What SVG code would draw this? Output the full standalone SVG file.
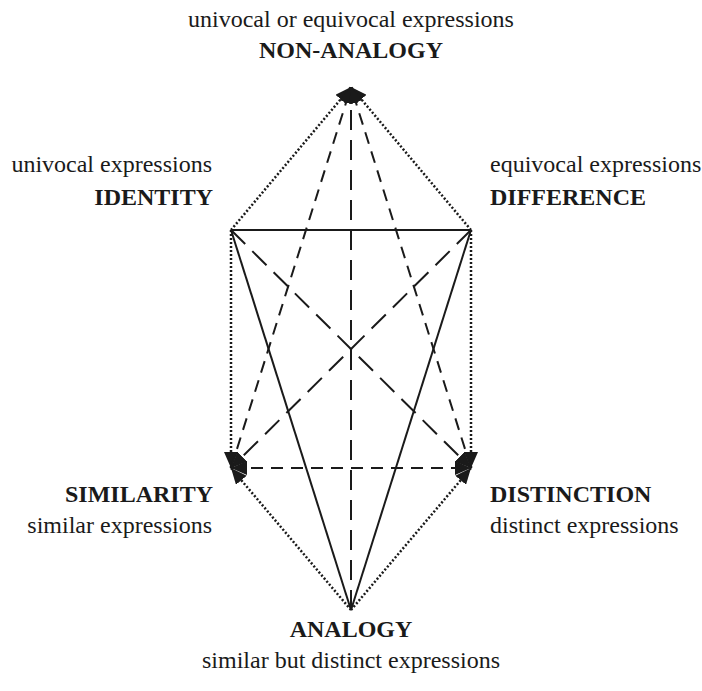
<svg xmlns="http://www.w3.org/2000/svg" width="702" height="691" viewBox="0 0 702 691">
<style>
.t{font-family:'Liberation Serif','Times New Roman',Tinos,'DejaVu Serif',serif;font-size:24px;fill:#1a1a1a}
.b{font-weight:bold}
.m{text-anchor:middle}
.e{text-anchor:end}
line{stroke:#1a1a1a;fill:none}
.solid{stroke-width:2}
.dot{stroke-width:2.5;stroke-dasharray:2 2}
.ld{stroke-width:2;stroke-dasharray:20 10}
.sd{stroke-width:2;stroke-dasharray:12 8}
</style>
<defs>
<marker id="ah" viewBox="0 0 16 14" refX="16" refY="7" markerWidth="16" markerHeight="14" markerUnits="userSpaceOnUse" orient="auto-start-reverse">
<path d="M0,0 L16,7 L0,14 Z" fill="#1a1a1a"/>
</marker>
</defs>
<g id="connectors">
<line class="solid" x1="231" y1="230" x2="471" y2="230"/>
<line class="solid" x1="231" y1="230" x2="351" y2="610"/>
<line class="solid" x1="471" y1="230" x2="351" y2="610"/>
<line class="dot" x1="231" y1="230" x2="351" y2="87" marker-end="url(#ah)"/>
<line class="dot" x1="471" y1="230" x2="351" y2="87" marker-end="url(#ah)"/>
<line class="dot" x1="231" y1="230" x2="231" y2="468" marker-end="url(#ah)"/>
<line class="dot" x1="471" y1="230" x2="471" y2="468" marker-end="url(#ah)"/>
<line class="dot" x1="351" y1="610" x2="231" y2="468" marker-end="url(#ah)"/>
<line class="dot" x1="351" y1="610" x2="471" y2="468" marker-end="url(#ah)"/>
<line class="ld" x1="231" y1="230" x2="471" y2="468" marker-end="url(#ah)"/>
<line class="ld" x1="471" y1="230" x2="231" y2="468" marker-end="url(#ah)"/>
<line class="ld" x1="351" y1="610" x2="351" y2="87" marker-end="url(#ah)"/>
<line class="sd" x1="231" y1="468" x2="351" y2="87" marker-end="url(#ah)"/>
<line class="sd" x1="471" y1="468" x2="351" y2="87" marker-end="url(#ah)"/>
<line class="sd" x1="231" y1="468" x2="471" y2="468" marker-start="url(#ah)" marker-end="url(#ah)"/>
</g>
<g font-family="Liberation Serif, serif">
<g id="non-analogy">
<text class="t m" x="351" y="27">univocal  or equivocal expressions</text>
<text class="t b m" x="351" y="58">NON-ANALOGY</text>
</g>
<g id="identity">
<text class="t e" x="212" y="172">univocal expressions</text>
<text class="t b e" x="213" y="205">IDENTITY</text>
</g>
<g id="difference">
<text class="t" x="490" y="172">equivocal expressions</text>
<text class="t b" x="490" y="205">DIFFERENCE</text>
</g>
<g id="similarity">
<text class="t b e" x="213" y="502">SIMILARITY</text>
<text class="t e" x="212" y="533">similar expressions</text>
</g>
<g id="distinction">
<text class="t b" x="490" y="502">DISTINCTION</text>
<text class="t" x="490" y="533">distinct expressions</text>
</g>
<g id="analogy">
<text class="t b m" x="351" y="637">ANALOGY</text>
<text class="t m" x="351" y="668">similar but distinct expressions</text>
</g>
</g>
</svg>
